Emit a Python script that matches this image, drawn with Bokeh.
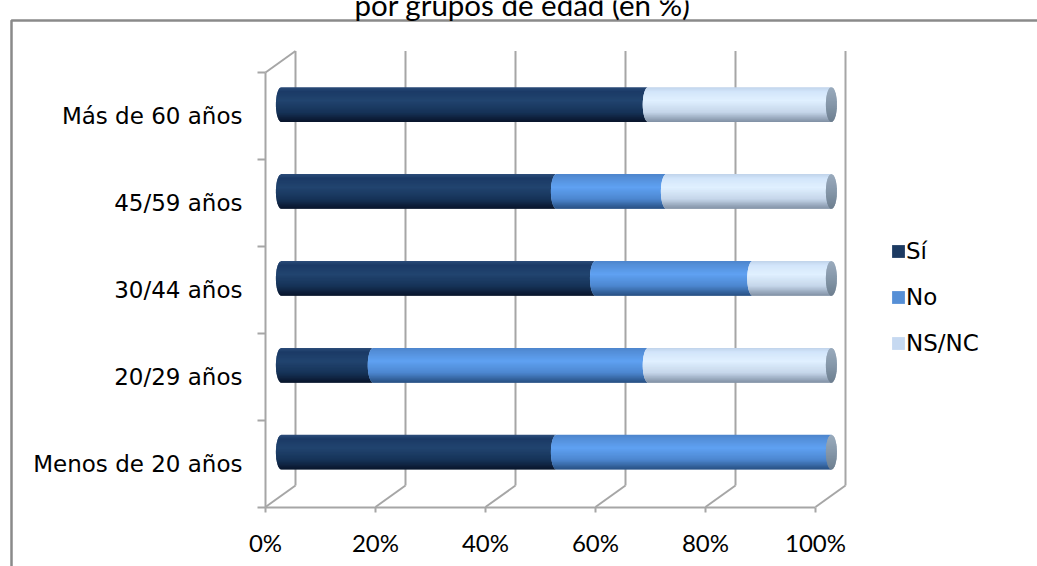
import math

import numpy as np
from bokeh.plotting import figure
from bokeh.models import (Range1d, LinearAxis, FixedTicker, PrintfTickFormatter,
                          ColumnDataSource, Legend, LegendItem, Label)
from bokeh.embed import file_html
from bokeh.resources import INLINE

# ---- data -----------------------------------------------------------------
groups = ["Menos de 20 años", "20/29 años", "30/44 años", "45/59 años", "Más de 60 años"]
si = [50.0, 16.7, 57.1, 50.0, 66.7]
no = [50.0, 50.0, 28.6, 20.0, 0.0]
nsnc = [0.0, 33.3, 14.3, 30.0, 33.3]
series_names = ["Sí", "No", "NS/NC"]
pct_ticks = [0, 20, 40, 60, 80, 100]
title_text = "por grupos de edad (en %)"

# ---- scale set-up ---------------------------------------------------------
W, H = 1037, 566
PX_PER_PCT = 5.5          # horizontal scale of the front plane
PX_PER_CAT = 86.9         # vertical distance between categories
X0 = -265 / PX_PER_PCT
X1 = X0 + W / PX_PER_PCT
Y1 = 4.5 + 72 / PX_PER_CAT
Y0 = Y1 - H / PX_PER_CAT

# depth of the pseudo-3D box (back wall offset) in data units
DX = 30 / PX_PER_PCT
DY = 21.5 / PX_PER_CAT
BAR_DEPTH = 0.53          # bars sit roughly halfway into the box
BX, BY = BAR_DEPTH * DX, BAR_DEPTH * DY
HALF_H = 0.20             # half thickness of a cylinder (category units)
CAP_A = 1.0               # half width of the elliptical ends (% units)
N_STRIPS = 30

GRID = "#a6a6a6"

SHADES = {
    "Sí":    [(0.0, "#2c4d7a"), (0.12, "#1b3a66"), (0.38, "#21446f"), (0.72, "#163358"), (1.0, "#08142a")],
    "No":    [(0.0, "#4d85cc"), (0.12, "#548fd9"), (0.38, "#5fa1f2"), (0.72, "#4c86cf"), (1.0, "#274f80")],
    "NS/NC": [(0.0, "#bfd2ea"), (0.12, "#d2e5fa"), (0.38, "#e0f0ff"), (0.72, "#c5d6ea"), (1.0, "#7f8fa3")],
}
CAP_SHADE = [(0.0, "#9aabbd"), (0.5, "#8597a9"), (1.0, "#6d7e8f")]
SWATCH = {"Sí": "#1c3a62", "No": "#568fd6", "NS/NC": "#c6d9f1"}


def _rgb(h):
    h = h.lstrip("#")
    return tuple(int(h[i:i + 2], 16) for i in (0, 2, 4))


def ramp(stops, t):
    for (t0, c0), (t1, c1) in zip(stops, stops[1:]):
        if t <= t1:
            f = (t - t0) / (t1 - t0) if t1 > t0 else 0.0
            a, b = _rgb(c0), _rgb(c1)
            return "#%02x%02x%02x" % tuple(round(a[i] + (b[i] - a[i]) * f) for i in range(3))
    return stops[-1][1]


def bulge(u):
    return CAP_A * math.sqrt(max(0.0, 1.0 - u * u))


def add_strips(store, left_fn, right_fn, yc, stops):
    """Cylinder piece as horizontal strips so it carries a vertical gradient.

    Each strip reaches a little into the next one (drawn later, on top),
    which hides anti-aliasing seams between neighbouring strips."""
    step = 2.0 / N_STRIPS
    for k in range(N_STRIPS):
        ut = 1 - k * step
        ub = max(-1.0, ut - step * 1.8)
        us = [ut + (ub - ut) * j / 5 for j in range(6)]
        xs = [left_fn(u) for u in us] + [right_fn(u) for u in reversed(us)]
        ys = [yc + u * HALF_H for u in us] + [yc + u * HALF_H for u in reversed(us)]
        store["xs"].append(xs)
        store["ys"].append(ys)
        store["color"].append(ramp(stops, (k + 0.5) / N_STRIPS))


p = figure(width=W, height=H, x_range=Range1d(X0, X1), y_range=Range1d(Y0, Y1),
           output_backend="svg", toolbar_location=None, title=None,
           x_axis_type=None, y_axis_type=None, min_border=0,
           outline_line_color=None, background_fill_color="white",
           border_fill_color="white")

# ---- chart area border (top and left edges; the rest lies off the page) ----
bx = X0 + 11 / PX_PER_PCT
by = Y1 - 20 / PX_PER_CAT
p.line([X1 + 5, bx, bx], [by, by, Y0 - 1], line_color="#8a8a8a", line_width=2.5)

# ---- box: back wall gridlines and floor diagonals --------------------------
seg = dict(x0=[], y0=[], x1=[], y1=[])
for v in pct_ticks:
    seg["x0"].append(v + DX); seg["y0"].append(-0.5 + DY)
    seg["x1"].append(v + DX); seg["y1"].append(4.5 + DY)
    seg["x0"].append(v);      seg["y0"].append(-0.5)
    seg["x1"].append(v + DX); seg["y1"].append(-0.5 + DY)
seg["x0"].append(0);  seg["y0"].append(4.5)
seg["x1"].append(DX); seg["y1"].append(4.5 + DY)
p.segment("x0", "y0", "x1", "y1", source=ColumnDataSource(seg),
          line_color=GRID, line_width=2)

# ---- stacked cylinders ------------------------------------------------------
values = {"Sí": si, "No": no, "NS/NC": nsnc}
stores = {name: dict(xs=[], ys=[], color=[]) for name in series_names}
cap_store = dict(xs=[], ys=[], color=[])
for i in range(len(groups)):
    yc = i + BY
    cum = 0.0
    vals = [values[n][i] for n in series_names]
    for j, name in enumerate(series_names):
        v = vals[j]
        if v <= 0:
            continue
        xs0, xe0 = cum, cum + v
        last = all(w <= 0 for w in vals[j + 1:])
        left_fn = (lambda u, a=xs0: a + BX - bulge(u))
        if last:
            right_fn = (lambda u, b=xe0: b + BX)
        else:
            right_fn = (lambda u, b=xe0: b + BX - bulge(u))
        add_strips(stores[name], left_fn, right_fn, yc, SHADES[name])
        cum = xe0
    c = cum + BX
    add_strips(cap_store, (lambda u, c=c: c - bulge(u)), (lambda u, c=c: c + bulge(u)),
               yc, CAP_SHADE)

for name in series_names:
    p.patches("xs", "ys", source=ColumnDataSource(stores[name]),
              fill_color="color", line_color=None)
p.patches("xs", "ys", source=ColumnDataSource(cap_store),
          fill_color="color", line_color=None)

# ---- front axes ------------------------------------------------------------
yaxis = LinearAxis(
    fixed_location=0, bounds=(-0.5, 4.5),
    ticker=FixedTicker(ticks=list(range(len(groups))),
                       minor_ticks=[k - 0.5 for k in range(len(groups) + 1)]),
    major_label_overrides={k: g for k, g in enumerate(groups)},
    major_tick_out=0, major_tick_in=0, minor_tick_out=8, minor_tick_in=0,
    axis_line_color=GRID, axis_line_width=2,
    minor_tick_line_color=GRID, minor_tick_line_width=2,
    major_label_standoff=15,
    major_label_text_font="DejaVu Sans", major_label_text_font_size="23px",
    major_label_text_color="#000000")
p.add_layout(yaxis, "left")

xaxis = LinearAxis(
    fixed_location=-0.5, bounds=(0, 100),
    ticker=FixedTicker(ticks=pct_ticks, minor_ticks=[]),
    formatter=PrintfTickFormatter(format="%d%%"),
    major_tick_out=5, major_tick_in=0, minor_tick_line_color=None,
    axis_line_color=GRID, axis_line_width=2,
    major_tick_line_color=GRID, major_tick_line_width=2,
    major_label_standoff=16,
    major_label_text_font="Lato", major_label_text_font_size="24px",
    major_label_text_color="#000000")
p.add_layout(xaxis, "below")

# ---- legend ------------------------------------------------------------------
items = []
for name in series_names:
    r = p.quad(left=np.array([np.nan]), right=np.array([np.nan]),
               top=np.array([np.nan]), bottom=np.array([np.nan]),
               fill_color=SWATCH[name], line_color=None)
    items.append(LegendItem(label=name, renderers=[r]))
legend = Legend(items=items, location=(890, 210), orientation="vertical",
                glyph_width=16, glyph_height=16, label_height=20, spacing=20,
                label_standoff=0, padding=0, margin=0,
                border_line_color=None, background_fill_alpha=0,
                label_text_font="DejaVu Sans", label_text_font_size="23px",
                label_text_color="#000000")
p.add_layout(legend, "center")

# ---- title ------------------------------------------------------------------
p.add_layout(Label(x=522, y=H - 4, x_units="screen", y_units="screen", text=title_text,
                   text_align="center", text_baseline="alphabetic",
                   text_font="Lato", text_font_size="29.5px", text_color="#000000"))

open("out.html", "w").write(file_html(p, INLINE))
